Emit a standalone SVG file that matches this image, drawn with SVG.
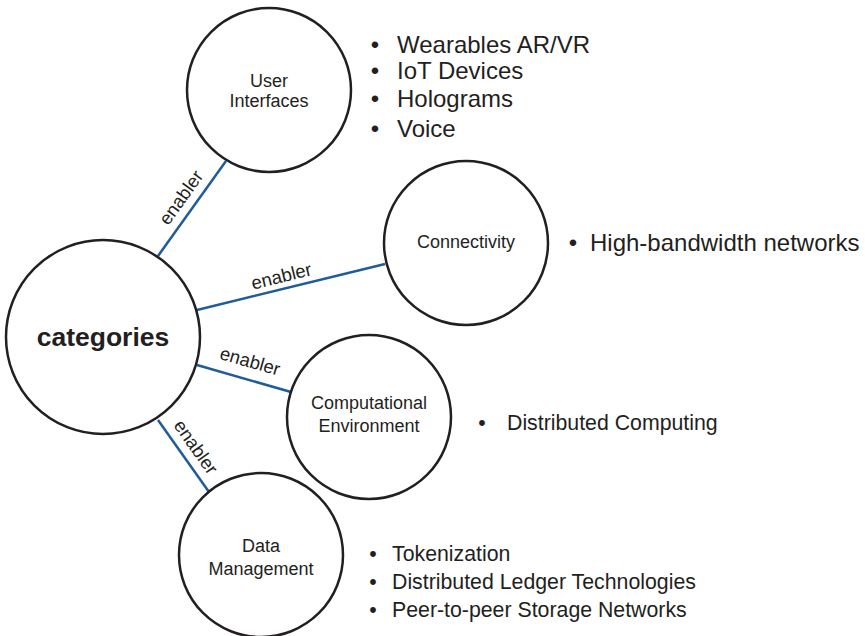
<svg xmlns="http://www.w3.org/2000/svg" width="865" height="636" viewBox="0 0 865 636">
<style>
.node{fill:#fff;stroke:#231f20;stroke-width:2.5}
.lbl{font-family:"Liberation Sans",Arial,sans-serif;font-size:18px;fill:#231f20;text-anchor:middle}
.big{font-family:"Liberation Sans",Arial,sans-serif;font-size:26.5px;font-weight:bold;fill:#231f20;text-anchor:middle}
.edge{stroke:#1f5c99;stroke-width:2.5;fill:none}
.elbl{font-family:"Liberation Sans",Arial,sans-serif;font-size:18.5px;fill:#231f20;text-anchor:middle}
.l1{font-family:"Liberation Sans",Arial,sans-serif;font-size:24px;fill:#231f20}
.l2{font-family:"Liberation Sans",Arial,sans-serif;font-size:21.3px;fill:#231f20}
.b{text-anchor:middle}
</style>
<rect width="865" height="636" fill="#fff"/>
<g id="connectors">
<line class="edge" x1="158" y1="256" x2="226" y2="161"/>
<line class="edge" x1="197" y1="310" x2="385" y2="264"/>
<line class="edge" x1="197" y1="365" x2="291" y2="392"/>
<line class="edge" x1="158" y1="420" x2="209" y2="492"/>
<text class="elbl" transform="translate(158,256) rotate(-54.4)" x="61" y="-9">enabler</text>
<text class="elbl" transform="translate(197,310) rotate(-13.75)" x="90" y="-6.5">enabler</text>
<text class="elbl" transform="translate(197,365) rotate(16)" x="50" y="-12">enabler</text>
<text class="elbl" transform="translate(158,420) rotate(54.7)" x="44" y="-9">enabler</text>
</g>
<g id="categories">
<circle class="node" cx="103" cy="337" r="97"/>
<text class="big" x="103" y="346">categories</text>
</g>
<g id="user-interfaces">
<circle class="node" cx="269" cy="90" r="82"/>
<text class="lbl" x="269" y="87">User</text>
<text class="lbl" x="269" y="107">Interfaces</text>
</g>
<g id="connectivity">
<circle class="node" cx="466" cy="243" r="82"/>
<text class="lbl" x="466" y="248">Connectivity</text>
</g>
<g id="computational-environment">
<circle class="node" cx="369" cy="417" r="82"/>
<text class="lbl" x="369" y="409">Computational</text>
<text class="lbl" x="369" y="432">Environment</text>
</g>
<g id="data-management">
<circle class="node" cx="261" cy="555" r="82"/>
<text class="lbl" x="261" y="552">Data</text>
<text class="lbl" x="261" y="575">Management</text>
</g>
<g id="ui-list" class="l1">
<text class="b" x="375" y="53">•</text><text x="397" y="53">Wearables AR/VR</text>
<text class="b" x="375" y="79">•</text><text x="397" y="79">IoT Devices</text>
<text class="b" x="375" y="107">•</text><text x="397" y="107">Holograms</text>
<text class="b" x="375" y="137">•</text><text x="397" y="137">Voice</text>
</g>
<g id="connectivity-list" class="l1">
<text class="b" x="573" y="251">•</text><text x="590" y="251">High-bandwidth networks</text>
</g>
<g id="computational-list" class="l2">
<text class="b" x="482" y="430">•</text><text x="507" y="430">Distributed Computing</text>
</g>
<g id="data-list" class="l2">
<text class="b" x="373" y="561">•</text><text x="392" y="561">Tokenization</text>
<text class="b" x="373" y="589">•</text><text x="392" y="589">Distributed Ledger Technologies</text>
<text class="b" x="373" y="617">•</text><text x="392" y="617">Peer-to-peer Storage Networks</text>
</g>
</svg>
